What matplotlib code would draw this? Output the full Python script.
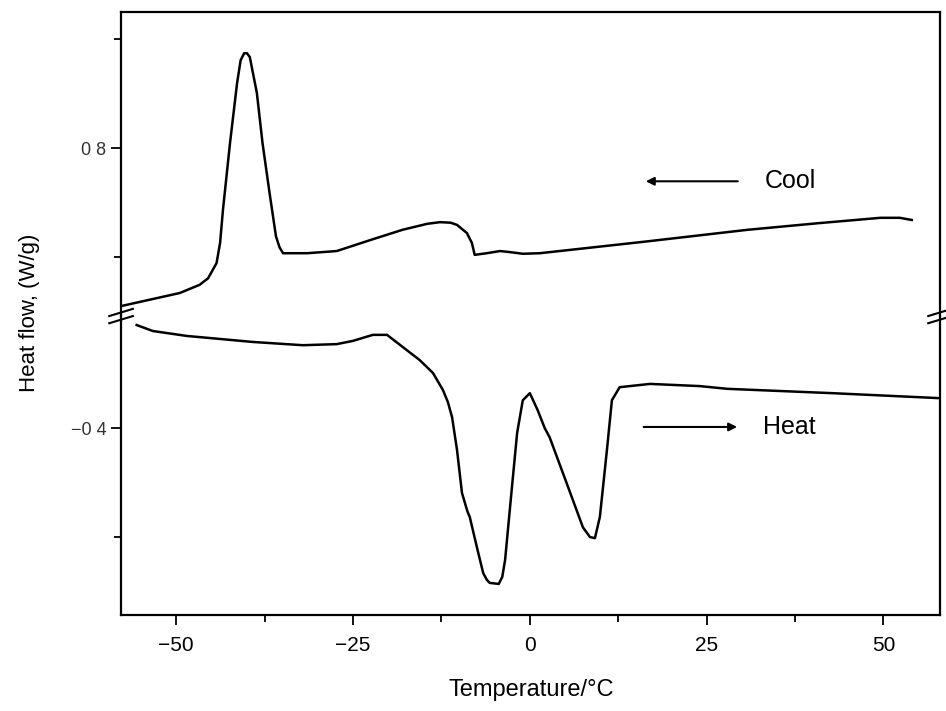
import numpy as np
import matplotlib
matplotlib.use("Agg")
import matplotlib.pyplot as plt

plt.rcParams['font.family'] = ['Liberation Sans', 'DejaVu Sans']

# cooling trace (upper panel), temperature in degC, heat flow in W/g
cool_t = [-57.8, -53.3, -49.5, -46.7, -45.5, -44.3, -43.8, -43.4, -42.4, -41.4,
          -40.9, -40.4, -40.0, -39.6, -38.6, -37.8, -36.8, -35.9, -35.4, -34.9,
          -31.5, -27.3, -22.6, -18.0, -14.5, -12.7, -11.2, -10.3, -8.9, -8.2,
          -7.8, -6.1, -4.2, -2.8, -1.0, 1.4, 16.1, 30.8, 40.7, 49.6,
          52.3, 54.0]
cool_w = [0.510, 0.523, 0.534, 0.549, 0.561, 0.589, 0.626, 0.686, 0.809, 0.919,
          0.961, 0.974, 0.974, 0.967, 0.901, 0.809, 0.717, 0.638, 0.618, 0.607,
          0.607, 0.611, 0.631, 0.650, 0.661, 0.664, 0.663, 0.659, 0.644, 0.626,
          0.604, 0.607, 0.611, 0.609, 0.606, 0.607, 0.628, 0.650, 0.662, 0.672,
          0.672, 0.668]

# heating trace (lower panel)
heat_t = [-55.6, -53.3, -48.5, -39.2, -32.1, -27.3, -25.0, -22.2, -20.2, -18.0,
          -15.6, -13.7, -12.3, -11.6, -11.0, -10.3, -9.6, -8.8, -8.5, -7.5,
          -6.6, -6.1, -5.7, -4.4, -3.9, -3.5, -2.8, -1.8, -1.0, 0.0,
          1.1, 2.1, 2.8, 5.2, 7.5, 8.5, 9.2, 9.9, 10.9, 11.6,
          12.7, 17.0, 24.0, 27.9, 42.8, 57.7]
heat_w = [-0.211, -0.222, -0.231, -0.242, -0.248, -0.246, -0.240, -0.229, -0.229, -0.251,
          -0.275, -0.299, -0.330, -0.352, -0.380, -0.440, -0.519, -0.554, -0.563, -0.618,
          -0.666, -0.678, -0.684, -0.686, -0.673, -0.642, -0.545, -0.409, -0.349, -0.336,
          -0.367, -0.400, -0.417, -0.501, -0.582, -0.600, -0.602, -0.563, -0.440, -0.349,
          -0.325, -0.319, -0.323, -0.328, -0.336, -0.345]

x_major = [-50, -25, 0, 25, 50]
x_major_labels = ['\u221250', '\u221225', '0', '25', '50']
x_minor = [-37.5, -12.5, 12.5, 37.5]
up_major, up_minor, up_labels = [0.8], [0.6, 1.0], ['0 8']
lo_major, lo_minor, lo_labels = [-0.4], [-0.6], ['\u22120 4']

fig = plt.figure(figsize=(9.46, 7.11), dpi=100)
gs = fig.add_gridspec(2, 1, height_ratios=[304, 299], hspace=0,
                      left=0.128, right=0.9937, top=0.983, bottom=0.135)
ax_up = fig.add_subplot(gs[0])
ax_lo = fig.add_subplot(gs[1], sharex=ax_up)

ax_up.plot(cool_t, cool_w, color='black', lw=1.8, solid_joinstyle='round')
ax_lo.plot(heat_t, heat_w, color='black', lw=1.8, solid_joinstyle='round')

ax_up.set_xlim(-57.8, 58.0)
ax_up.set_ylim(0.4917, 1.0495)
ax_lo.set_ylim(-0.743, -0.1945)

for ax in (ax_up, ax_lo):
    for s in ax.spines.values():
        s.set_linewidth(1.6)
    ax.tick_params(which='both', direction='out', width=1.3, right=False, top=False)
    ax.tick_params(which='major', length=7)
    ax.tick_params(which='minor', length=5)

ax_up.spines['bottom'].set_visible(False)
ax_lo.spines['top'].set_visible(False)
ax_up.tick_params(axis='x', which='both', bottom=False, labelbottom=False)

ax_up.set_yticks(up_major)
ax_up.set_yticklabels(up_labels, fontsize=13, color='#333333')
ax_up.set_yticks(up_minor, minor=True)
ax_lo.set_yticks(lo_major)
ax_lo.set_yticklabels(lo_labels, fontsize=13, color='#333333')
ax_lo.set_yticks(lo_minor, minor=True)

ax_lo.set_xticks(x_major)
ax_lo.set_xticklabels(x_major_labels, fontsize=15)
ax_lo.set_xticks(x_minor, minor=True)
ax_lo.tick_params(axis='x', which='major', pad=8)

# break marks on both side spines
d = 0.012
for xs in (0.0, 1.0):
    for off in (-0.012, 0.012):
        ax_lo.plot([xs - d * 1.2, xs + d * 1.2], [1 + off - d, 1 + off + d],
                   transform=ax_lo.transAxes, color='black', lw=1.5, clip_on=False)

# Cool / Heat arrows
ax_up.annotate('', xy=(16.0, 0.739), xytext=(29.8, 0.739),
               arrowprops=dict(arrowstyle='-|>', color='black', lw=1.5, mutation_scale=12))
ax_up.text(33.2, 0.739, 'Cool', fontsize=18, va='center', ha='left')
ax_lo.annotate('', xy=(29.7, -0.398), xytext=(15.7, -0.398),
               arrowprops=dict(arrowstyle='-|>', color='black', lw=1.5, mutation_scale=12))
ax_lo.text(32.9, -0.398, 'Heat', fontsize=18, va='center', ha='left')

fig.text(531 / 946, 1 - 690 / 711, 'Temperature/\u00b0C', fontsize=17, ha='center', va='center')
fig.text(30 / 946, 0.56, 'Heat flow, (W/g)', fontsize=16, rotation=90, ha='center', va='center')

fig.savefig('out.png', dpi=100)
